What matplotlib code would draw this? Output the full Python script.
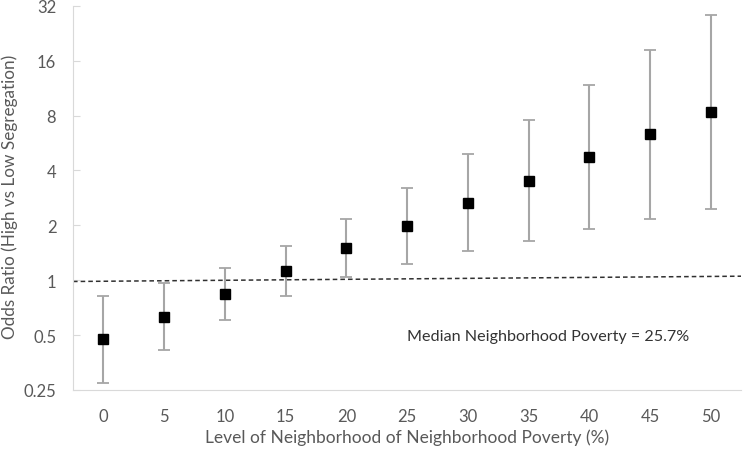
import numpy as np
from matplotlib import pyplot as plt

# poverty level categories (%)
poverty = [0, 5, 10, 15, 20, 25, 30, 35, 40, 45, 50]
odds_ratio = [0.473, 0.628, 0.845, 1.117, 1.50, 1.99, 2.66, 3.52, 4.71, 6.30, 8.37]
ci_low = [0.274, 0.415, 0.605, 0.816, 1.035, 1.22, 1.44, 1.65, 1.90, 2.17, 2.46]
ci_high = [0.816, 0.971, 1.174, 1.544, 2.17, 3.22, 4.92, 7.57, 11.7, 18.2, 28.5]
ref_line = [0.984, 1.052]   # dashed line, left and right ends
y_ticks = [0.25, 0.5, 1, 2, 4, 8, 16, 32]
y_labels = ["0.25", "0.5", "1", "2", "4", "8", "16", "32"]

plt.rcParams['font.family'] = ['Lato', 'DejaVu Sans']

fig = plt.figure(figsize=(7.45, 4.52), dpi=100)
ax = fig.add_axes([0.098, 0.135, 0.897, 0.850])

x = np.arange(len(poverty))
y = np.array(odds_ratio)
yerr = [y - np.array(ci_low), np.array(ci_high) - y]

ax.plot([-0.5, len(poverty) - 0.5], ref_line, color='#303030', lw=1.1, ls=(0, (3, 2)))
ax.errorbar(x, y, yerr=yerr, fmt='none', ecolor='#a6a6a6', elinewidth=1.5,
            capsize=4, capthick=1.3, zorder=2)
ax.plot(x, y, 's', color='black', ms=7, zorder=3)

ax.text(5.0, 0.497, "Median Neighborhood Poverty = 25.7%", fontsize=11.6,
        color='#333333', va='center', ha='left')

ax.set_yscale('log', base=2)
ax.set_ylim(0.25, 32)
ax.set_yticks(y_ticks)
ax.set_yticklabels(y_labels)
ax.minorticks_off()
ax.set_xlim(-0.5, len(poverty) - 0.5)
ax.set_xticks(x)
ax.set_xticklabels([str(p) for p in poverty])

for s in ['top', 'right']:
    ax.spines[s].set_visible(False)
for s in ['left', 'bottom']:
    ax.spines[s].set_color('#d9d9d9')
ax.tick_params(axis='y', direction='in', length=5, color='#d9d9d9',
               labelsize=12, labelcolor='#595959', pad=12)
ax.tick_params(axis='x', length=0, labelsize=12, labelcolor='#595959', pad=13)

ax.set_xlabel("Level of Neighborhood of Neighborhood Poverty (%)", fontsize=12.5,
              color='#595959')
ax.xaxis.set_label_coords(0.5, -0.1)
ax.set_ylabel("Odds Ratio (High vs Low Segregation)", fontsize=12.3,
              color='#595959')
ax.yaxis.set_label_coords(-0.082, 0.505)

plt.savefig('out.png', dpi=100)
